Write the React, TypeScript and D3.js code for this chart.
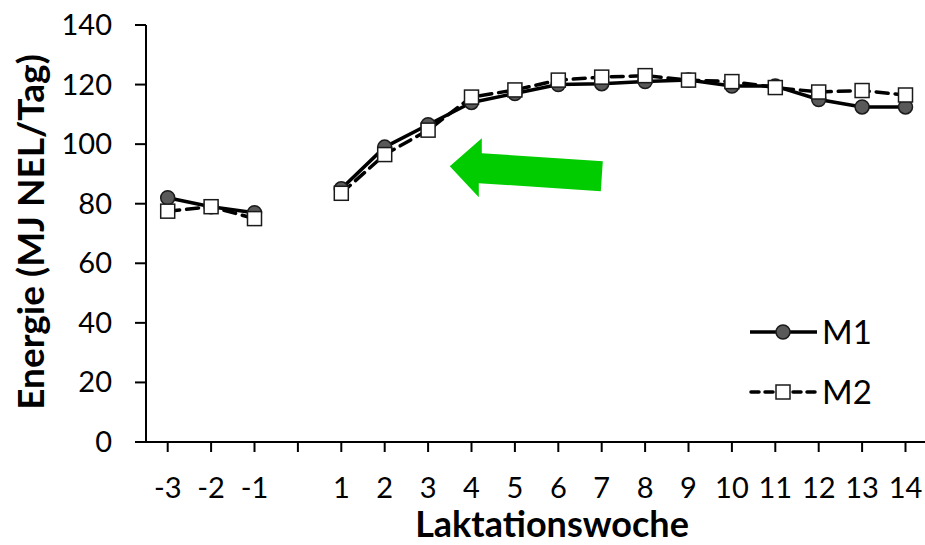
import React from "react";
import * as d3 from "d3";

const categories = ["-3", "-2", "-1", "", "1", "2", "3", "4", "5", "6", "7", "8", "9", "10", "11", "12", "13", "14"];
const m1Values: (number | null)[] = [82, 79, 77, null, 85, 99, 106.5, 114, 117, 120, 120.3, 121, 121.5, 119.5, 119.5, 115, 112.5, 112.5];
const m2Values: (number | null)[] = [77.5, 79, 75, null, 83.5, 96.5, 104.7, 115.8, 118.2, 121.5, 122.5, 123, 121.5, 121, 119, 117.5, 118, 116.5];
const yTicks = [0, 20, 40, 60, 80, 100, 120, 140];
const seriesNames = ["M1", "M2"];
const yTitle = "Energie (MJ NEL/Tag)";
const xTitle = "Laktationswoche";

const W = 925;
const H = 545;
const FONT = "Lato, 'Open Sans', sans-serif";

export default function App() {
  const keys = categories.map((c, i) => `k${i}`);
  const x = d3.scaleBand<string>().domain(keys).range([146, 146 + 18 * 43.4]).padding(0);
  const cx = (i: number) => (x(keys[i]) as number) + x.bandwidth() / 2;
  const y = d3.scaleLinear().domain([0, 140]).range([442, 25]);

  const line = d3
    .line<number | null>()
    .defined((d) => d !== null)
    .x((_, i) => cx(i))
    .y((d) => y(d as number));

  // arrow annotation anchored in data space (tip between week 3 and 4)
  const tipX = (cx(6) + cx(7)) / 2;
  const tipY = y(92.6);
  const arrowPts: [number, number][] = [
    [0, 0],
    [32, -28],
    [32, -13],
    [153, -5],
    [151, 25],
    [29, 17],
    [29, 31],
  ];
  const arrowPath = "M" + arrowPts.map(([dx, dy]) => `${tipX + dx},${tipY + dy}`).join("L") + "Z";

  return (
    <svg width={W} height={H} style={{ position: "absolute", left: 0, top: 0, background: "#fff" }} fontFamily={FONT}>
      {/* axes */}
      <line x1={146} x2={146} y1={y(140)} y2={y(0)} stroke="#000" strokeWidth={2} />
      <line x1={135} x2={W} y1={y(0)} y2={y(0)} stroke="#000" strokeWidth={2} />
      {yTicks.map((t) => (
        <g key={t}>
          <line x1={135} x2={146} y1={y(t)} y2={y(t)} stroke="#000" strokeWidth={2} />
          <text x={112} y={y(t) + 10} textAnchor="end" fontSize={29} fill="#000">
            {t}
          </text>
        </g>
      ))}
      {categories.map((c, i) => (
        <g key={i}>
          <line x1={cx(i)} x2={cx(i)} y1={y(0)} y2={y(0) + 10} stroke="#000" strokeWidth={2} />
          <text x={cx(i)} y={498} textAnchor="middle" fontSize={29} fill="#000">
            {c}
          </text>
        </g>
      ))}
      <text x={552} y={537} textAnchor="middle" fontSize={36} fontWeight="bold" fill="#000">
        {xTitle}
      </text>
      <text transform="translate(44,232) rotate(-90)" textAnchor="middle" fontSize={37} fontWeight="bold" fill="#000">
        {yTitle}
      </text>

      {/* M1 */}
      <path d={line(m1Values) || ""} fill="none" stroke="#000" strokeWidth={3.5} strokeLinejoin="round" />
      {m1Values.map((v, i) =>
        v === null ? null : (
          <circle key={i} cx={cx(i)} cy={y(v)} r={7} fill="#595959" stroke="#1a1a1a" strokeWidth={1.5} />
        )
      )}
      {/* M2 */}
      <path d={line(m2Values) || ""} fill="none" stroke="#000" strokeWidth={3.5} strokeDasharray="12,7" strokeLinecap="round" />
      {m2Values.map((v, i) =>
        v === null ? null : (
          <rect key={i} x={cx(i) - 7} y={y(v) - 7} width={14} height={14} fill="#fff" stroke="#1a1a1a" strokeWidth={1.5} />
        )
      )}

      {/* arrow */}
      <path d={arrowPath} fill="#00CC00" />

      {/* legend */}
      <g>
        <line x1={750} x2={817} y1={332} y2={332} stroke="#000" strokeWidth={3.5} />
        <circle cx={783} cy={332} r={7} fill="#595959" stroke="#1a1a1a" strokeWidth={1.5} />
        <text x={822} y={344} fontSize={33} fill="#000">
          {seriesNames[0]}
        </text>
        <line x1={751} x2={817} y1={392} y2={392} stroke="#000" strokeWidth={3.5} strokeDasharray="8,6" strokeLinecap="round" />
        <rect x={776} y={385} width={14} height={14} fill="#fff" stroke="#1a1a1a" strokeWidth={1.5} />
        <text x={822} y={404} fontSize={33} fill="#000">
          {seriesNames[1]}
        </text>
      </g>
    </svg>
  );
}
